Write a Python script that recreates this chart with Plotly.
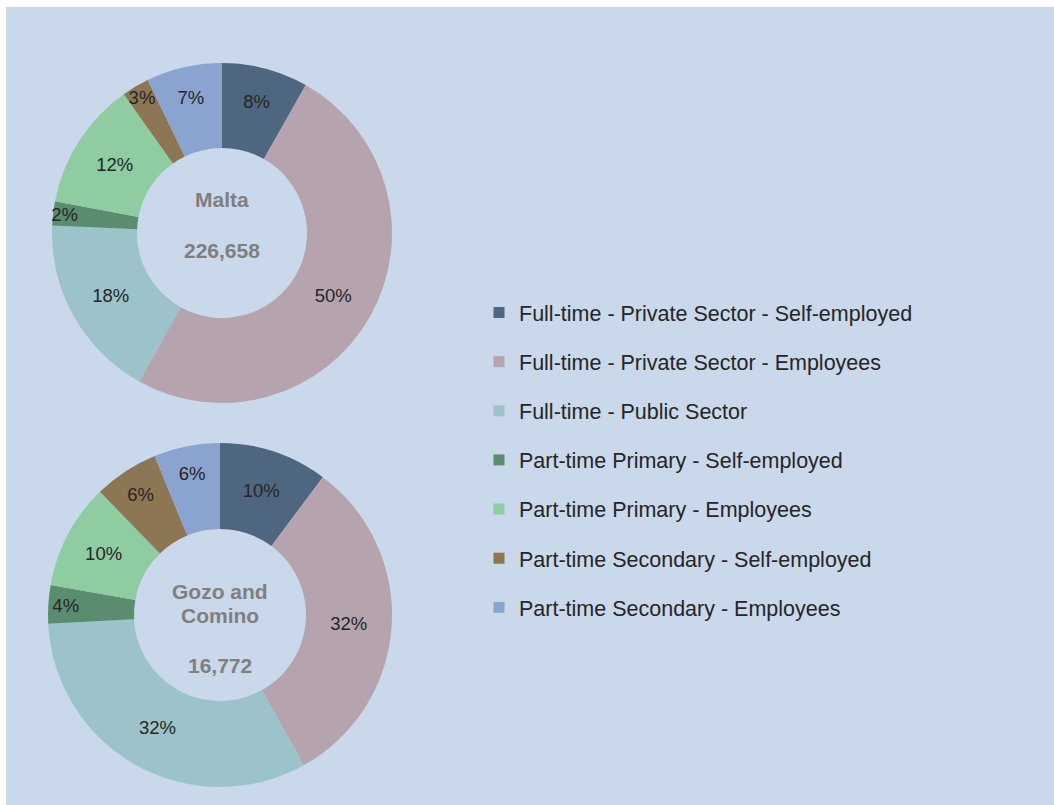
import plotly.graph_objects as go

categories = [
    "Full-time - Private Sector - Self-employed",
    "Full-time - Private Sector - Employees",
    "Full-time - Public Sector",
    "Part-time Primary - Self-employed",
    "Part-time Primary - Employees",
    "Part-time Secondary - Self-employed",
    "Part-time Secondary - Employees",
]
colors = ["#4f6680", "#b5a4ae", "#9bc3c9", "#5a8d6f", "#8fcca2", "#8c7654", "#8aa3cf"]

malta_share = [8.2, 49.9, 17.6, 2.3, 12.2, 2.6, 7.2]
gozo_share = [10.2, 31.7, 32.3, 3.6, 9.9, 6.1, 6.2]
malta_name = "Malta"
gozo_name = ["Gozo and", "Comino"]
malta_total = "226,658"
gozo_total = "16,772"

W, H = 1054, 805
BG = "#c9d8ea"
FONT = "Liberation Sans, Arial, sans-serif"

fig = go.Figure()

def px_dom(cx, cy, r):
    return dict(x=[(cx - r) / W, (cx + r) / W], y=[(H - cy - r) / H, (H - cy + r) / H])

for vals, dom in [(malta_share, px_dom(222, 233, 170)), (gozo_share, px_dom(220, 615, 172))]:
    fig.add_trace(go.Pie(
        labels=categories, values=vals, hole=0.5, sort=False, direction="clockwise",
        rotation=0, marker=dict(colors=colors, line=dict(width=0)),
        texttemplate="%{percent:.0%}", textposition="inside",
        insidetextorientation="horizontal",
        textfont=dict(family=FONT, size=18.5, color="#262626"),
        showlegend=False, domain=dom, hoverinfo="label+percent",
    ))

for name, col in zip(categories, colors):
    fig.add_trace(go.Scatter(
        x=[None], y=[None], mode="markers", name=name, legendgroup=name,
        marker=dict(symbol="square", size=11, color=col), showlegend=True,
    ))

def ann(text, cx, cy):
    fig.add_annotation(text="<b>" + text + "</b>", x=cx / W, y=(H - cy) / H,
                       xref="paper", yref="paper",
                       showarrow=False, xanchor="center", yanchor="middle",
                       font=dict(family=FONT, size=21, color="#7f7f7f"))

ann(malta_name, 222, 199)
ann(malta_total, 222, 250)
ann(gozo_name[0], 220, 591)
ann(gozo_name[1], 220, 615)
ann(gozo_total, 220, 665)

fig.add_shape(type="rect", xref="paper", yref="paper", x0=6 / W, x1=1.0, y0=0, y1=1 - 7 / H,
              fillcolor=BG, line=dict(width=0), layer="below")

fig.update_layout(
    width=W, height=H, margin=dict(l=0, r=0, t=0, b=0),
    paper_bgcolor="white", plot_bgcolor="rgba(0,0,0,0)",
    xaxis=dict(visible=False), yaxis=dict(visible=False),
    showlegend=True,
    legend=dict(x=479 / W, y=(H - 292) / H, xanchor="left", yanchor="top",
                bgcolor="rgba(0,0,0,0)", tracegroupgap=18.2, traceorder="grouped",
                font=dict(family=FONT, size=21.5, color="#262626")),
    uniformtext=dict(minsize=18.5, mode="show"),
)

fig.write_html("out.html", config={"displayModeBar": False},
               post_script="document.body.style.margin='0';document.body.style.overflow='hidden';")
